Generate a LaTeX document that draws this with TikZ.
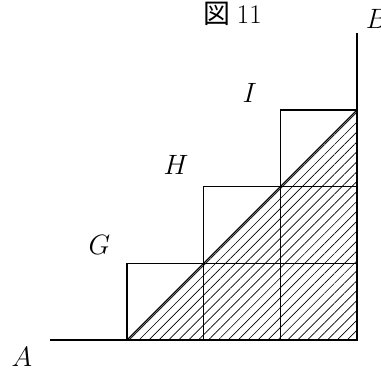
\documentclass[tikz,border=0pt]{standalone}
\usepackage{fontspec}
\newfontfamily\cjk{Noto Sans CJK JP}
\usetikzlibrary{patterns.meta}
\begin{document}
\begin{tikzpicture}[x=2cm,y=2cm,lbl/.style={font=\fontsize{20}{24}\selectfont},cell/.style={line width=1pt}]
\useasboundingbox (-1.656,-0.391) rectangle (3.312,4.433);
\fill[pattern={Lines[angle=45,distance=5.2pt,line width=0.5pt]}] (0,0) -- (3,0) -- (3,3) -- cycle;
\foreach \j in {0,1,2}{\foreach \i in {\j,...,2}{\draw[cell] (\i,\j) rectangle +(1,1);}}
\coordinate (a) at (-1,0);
\coordinate (o) at (0,0);
\coordinate (c) at (3,3);
\coordinate (b) at (3,4);
\draw[cell] (o) -- (c);
\draw[line width=2pt] (a) -- (o);
\draw[line width=2pt] (c) -- (b);
\node[lbl,inner sep=1pt] (lA) at (-1.37,-0.22) {$A$};
\node[lbl] (lB) at (3.26,4.19) {$B$};
\node[lbl] (lG) at (-0.36,1.24) {$G$};
\node[lbl] (lH) at (0.64,2.28) {$H$};
\node[lbl] (lI) at (1.6,3.22) {$I$};
\node[lbl] (title) at (1.38,4.25) {\cjk 図\ \rmfamily 11};
\end{tikzpicture}
\end{document}
